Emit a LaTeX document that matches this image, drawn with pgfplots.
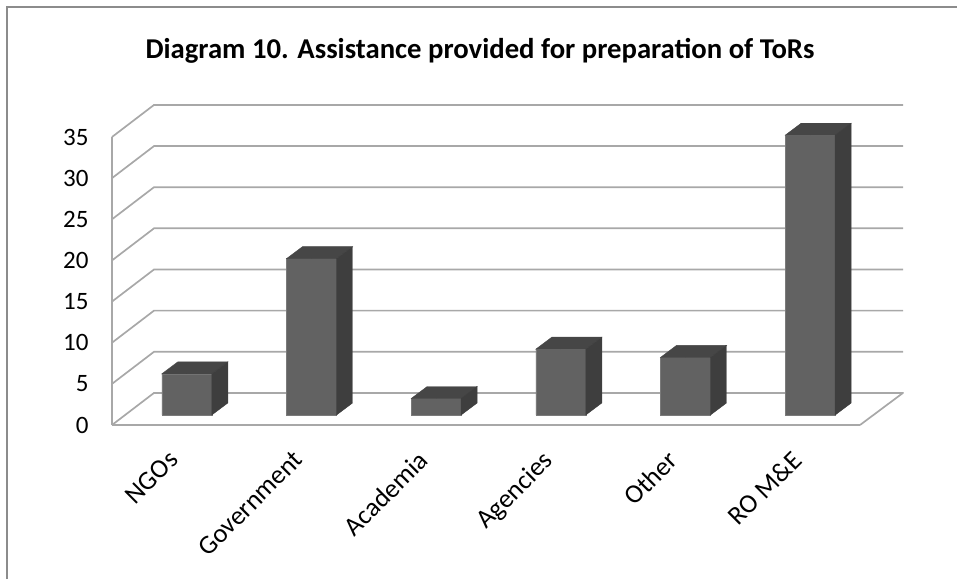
\documentclass[border=0pt]{standalone}
\usepackage{fontspec}
\setmainfont{Carlito}
\usepackage{pgfplots}
\usepackage{pgfplotstable}
\pgfplotsset{compat=1.18}
\definecolor{wallgrey}{HTML}{A8A8A8}
\definecolor{framegrey}{HTML}{8C8C8C}
\definecolor{barfront}{HTML}{626262}
\definecolor{bartop}{HTML}{464646}
\definecolor{barside}{HTML}{3E3E3E}

% bar values
\pgfplotstableread{
pos value
0   5
1   19
2   2
3   8
4   7
5   34
}\assistdata

\begin{document}
\begin{tikzpicture}[x=1pt,y=1pt]
\useasboundingbox (-112,-154) rectangle (845,425);
% chart frame, cut off at the right and bottom
\draw[framegrey,line width=1.2pt] (-105,-154) -- (-105,418) -- (845,418);
\begin{axis}[
  at={(0pt,0pt)},anchor=south west,
  scale only axis,
  width=748pt,height=288pt,
  xmin=-0.6,xmax=5.4,
  ymin=0,ymax=35,
  clip=false,
  axis lines*=left,
  axis line style={wallgrey,line width=2pt,-},
  tick style={draw=none},
  xtick={0,...,5},
  xticklabels={NGOs,Government,Academia,Agencies,Other,RO M\&E},
  ytick={0,5,...,35},
  /pgf/number format/assume math mode=true,
  tick label style={font=\fontsize{25}{28}\selectfont,black},
  xticklabel style={font=\fontsize{26.5}{30}\selectfont,rotate=45,anchor=north east,xshift=-27.5pt,yshift=0pt},
  yticklabel style={xshift=-20pt},
  title={\bfseries\fontsize{28.7}{32}\selectfont Diagram 10. Assistance provided for preparation of ToRs},
  title style={at={(0.492,1.28)},anchor=center,black},
  visualization depends on={rawy \as \barval},
]
% back wall and floor
\addplot[wallgrey,line width=1.7pt,line join=round] coordinates {(-0.6,0)(-0.263,3.9)(5.745,3.9)(5.4,0)};
\addplot[wallgrey,line width=1.7pt] coordinates {(-0.6,5)(-0.263,8.9)(5.745,8.9)};
\addplot[wallgrey,line width=1.7pt] coordinates {(-0.6,10)(-0.263,13.9)(5.745,13.9)};
\addplot[wallgrey,line width=1.7pt] coordinates {(-0.6,15)(-0.263,18.9)(5.745,18.9)};
\addplot[wallgrey,line width=1.7pt] coordinates {(-0.6,20)(-0.263,23.9)(5.745,23.9)};
\addplot[wallgrey,line width=1.7pt] coordinates {(-0.6,25)(-0.263,28.9)(5.745,28.9)};
\addplot[wallgrey,line width=1.7pt] coordinates {(-0.6,30)(-0.263,33.9)(5.745,33.9)};
\addplot[wallgrey,line width=1.7pt] coordinates {(-0.6,35)(-0.263,38.9)(5.745,38.9)};
% top and side faces hang off each data point
\addplot[
  scatter,only marks,mark size=0pt,yshift=10pt,
  scatter/@pre marker code/.code={
    \pgfmathsetmacro\barh{\barval*8.23}
    \fill[bartop] (-25pt,0pt) -- (25pt,0pt) -- (41pt,12pt) -- (-9pt,12pt) -- cycle;
    \fill[barside] (25pt,0pt) -- (41pt,12pt) -- (41pt,12pt-\barh pt) -- (25pt,-\barh pt) -- cycle;
  },
  scatter/@post marker code/.code={},
] table[x=pos,y=value] {\assistdata};
% front faces
\addplot[ybar,bar width=50pt,bar shift=0pt,yshift=10pt,fill=barfront,draw=barfront!85!white,line width=0.6pt]
  table[x=pos,y=value] {\assistdata};
\end{axis}
\end{tikzpicture}
\end{document}
